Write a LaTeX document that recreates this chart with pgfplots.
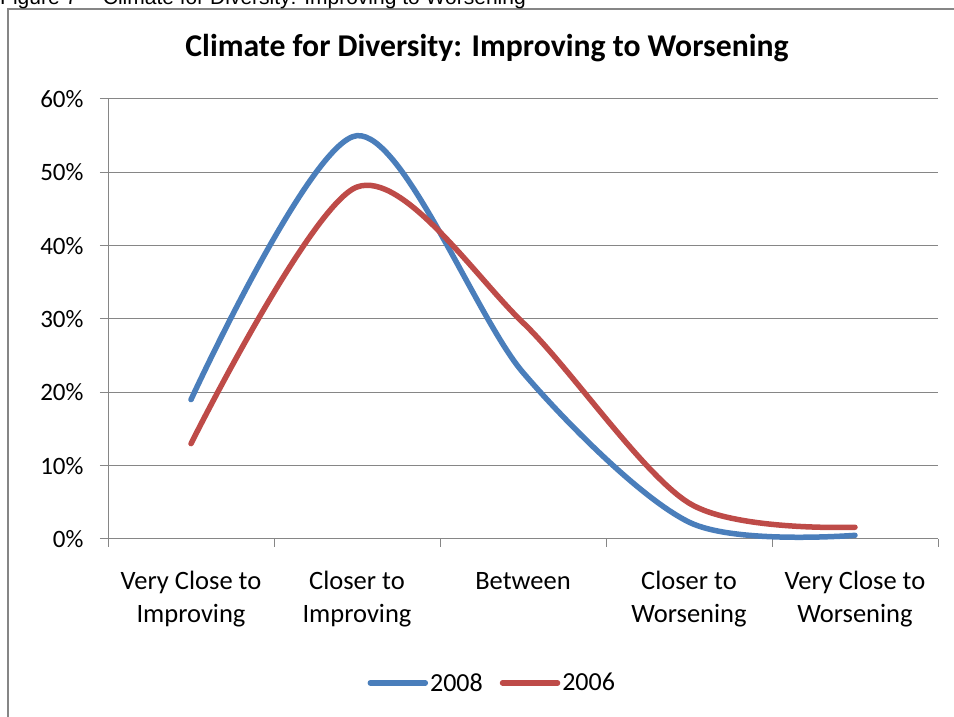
\documentclass[border=0pt]{standalone}
\usepackage{pgfplots}
\pgfplotsset{compat=1.18}
\usepackage{fontspec}
\setmainfont{Carlito}
\newfontfamily\arialfont{Liberation Sans}
\definecolor{c2008}{HTML}{4A7EBB}
\definecolor{c2006}{HTML}{BE4B48}
\definecolor{gridc}{HTML}{868686}
\begin{document}
\begin{tikzpicture}
\useasboundingbox (0pt,0pt) rectangle (954pt,717pt);
\clip (0pt,0pt) rectangle (954pt,717pt);
% frame
\draw[gridc, line width=1.5pt] (8pt,-5pt) -- (8pt,708pt) -- (960pt,708pt);
% caption partly cut off
\node[anchor=base west, inner sep=0pt, font=\arialfont\fontsize{21}{25}\selectfont] at (0pt,712.5pt) {Figure 7 -- Climate for Diversity: Improving to Worsening};
% title
\node[font=\bfseries\fontsize{31.7}{38}\selectfont] at (487pt,669pt) {Climate for Diversity: Improving to Worsening};
\begin{axis}[
  at={(108pt,178pt)}, anchor=south west,
  scale only axis, width=830pt, height=440pt,
  xmin=-0.5, xmax=4.5, ymin=0, ymax=0.6,
  axis x line*=bottom, axis y line*=left,
  axis line style={gridc, line width=1pt},
  ytick={0,0.1,...,0.61},
  yticklabels={0\%,10\%,20\%,30\%,40\%,50\%,60\%},
  ymajorgrids, grid style={gridc, line width=1pt},
  xtick={-0.5,0.5,...,4.6}, xticklabels={},
  extra x ticks={0,1,2,3,4},
  extra x tick labels={Very Close to\\Improving, Closer to\\Improving, \vphantom{Cl}Between\\\mbox{}, Closer to\\Worsening, Very Close to\\Worsening},
  extra x tick style={major tick length=0pt, grid=none, tick label style={align=center, font=\fontsize{26.5}{33}\selectfont, yshift=-29pt}},
  tick align=outside, major tick length=8pt,
  tick style={gridc, line width=1pt},
  yticklabel style={font=\fontsize{25}{30}\selectfont, xshift=-13pt},
  /pgf/number format/assume math mode=true,
  legend columns=2,
  legend style={at={(0.463,-0.327)}, anchor=center, draw=none, fill=none,
    font=\fontsize{26}{30}\selectfont, /tikz/every even column/.append style={column sep=15pt}},
  legend image code/.code={\draw[#1, line cap=round] (0pt,0pt) -- (55pt,0pt);},
  clip=false,
]
\addplot[c2008, line width=5.5pt, line cap=round, smooth, tension=0.5] coordinates {(0,0.19) (1,0.55) (2,0.227) (3,0.023) (4,0.005)};
\addlegendentry{2008}
\addplot[c2006, line width=5.5pt, line cap=round, smooth, tension=0.5] coordinates {(0,0.13) (1,0.48) (2,0.295) (3,0.049) (4,0.016)};
\addlegendentry{2006}
\end{axis}
\end{tikzpicture}
\end{document}
